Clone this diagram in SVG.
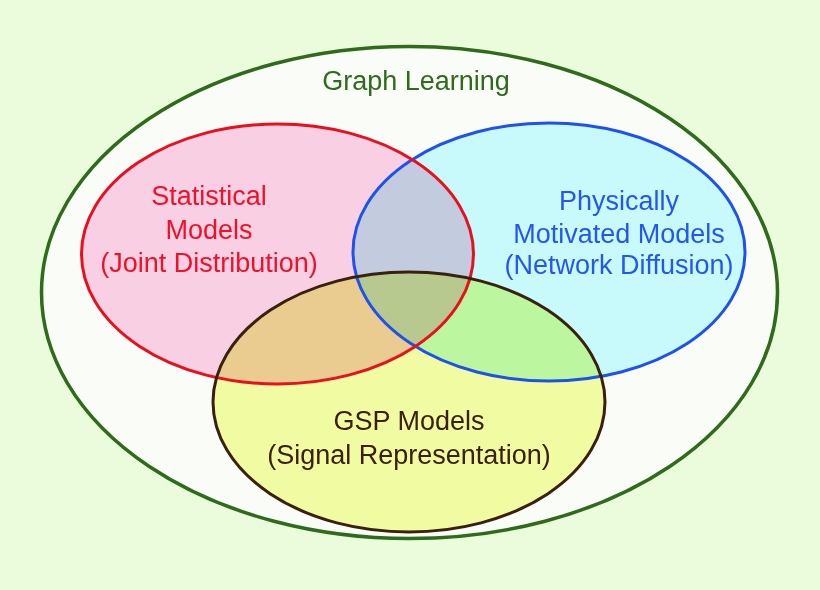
<svg xmlns="http://www.w3.org/2000/svg" xmlns:xlink="http://www.w3.org/1999/xlink" width="820" height="590" viewBox="0 0 820 590">
  <style>
    text { font-family: "Liberation Sans", Arial, Helvetica, sans-serif; font-size: 27px; text-anchor: middle; }
    .blend { mix-blend-mode: multiply; stroke: none; }
    .ring { fill: none; stroke-width: 3; }
  </style>
  <defs>
    <ellipse id="shape-stat" cx="277.5" cy="254" rx="196" ry="130"/>
    <ellipse id="shape-phys" cx="549" cy="252" rx="196" ry="129"/>
    <ellipse id="shape-gsp" cx="409" cy="402" rx="196" ry="130"/>
  </defs>
  <rect x="0" y="0" width="820" height="590" fill="#ebfcdc"/>

  <g id="graph-learning">
    <ellipse cx="409.5" cy="292.5" rx="368" ry="246" fill="#f9fcf7" stroke="#2e6b1a" stroke-width="3.5"/>
    <text x="416" y="90" fill="#2e6b1a">Graph Learning</text>
  </g>

  <g id="sets" style="isolation:isolate">
    <g id="statistical-models">
      <use xlink:href="#shape-stat" class="blend" fill="#f9d0e3"/>
      <text x="209" y="205" fill="#f0102a">Statistical</text>
      <text x="209" y="239" fill="#f0102a">Models</text>
      <text x="209" y="272" fill="#f0102a">(Joint Distribution)</text>
    </g>

    <g id="physical-models">
      <use xlink:href="#shape-phys" class="blend" fill="#c8fafb"/>
      <text x="619" y="210" fill="#2457ee">Physically</text>
      <text x="619" y="243" fill="#2457ee">Motivated Models</text>
      <text x="619" y="274" fill="#2457ee">(Network Diffusion)</text>
    </g>

    <g id="gsp-models">
      <use xlink:href="#shape-gsp" class="blend" fill="#f0fba2"/>
      <text x="409" y="430" fill="#3a200e">GSP Models</text>
      <text x="409" y="464" fill="#3a200e">(Signal Representation)</text>
    </g>
  </g>

  <g id="outlines">
    <use xlink:href="#shape-phys" class="ring" stroke="#1f52ec"/>
    <use xlink:href="#shape-stat" class="ring" stroke="#e8101e"/>
    <use xlink:href="#shape-gsp" class="ring" stroke="#3a200e"/>
  </g>

  <g id="connectors"/>
</svg>
